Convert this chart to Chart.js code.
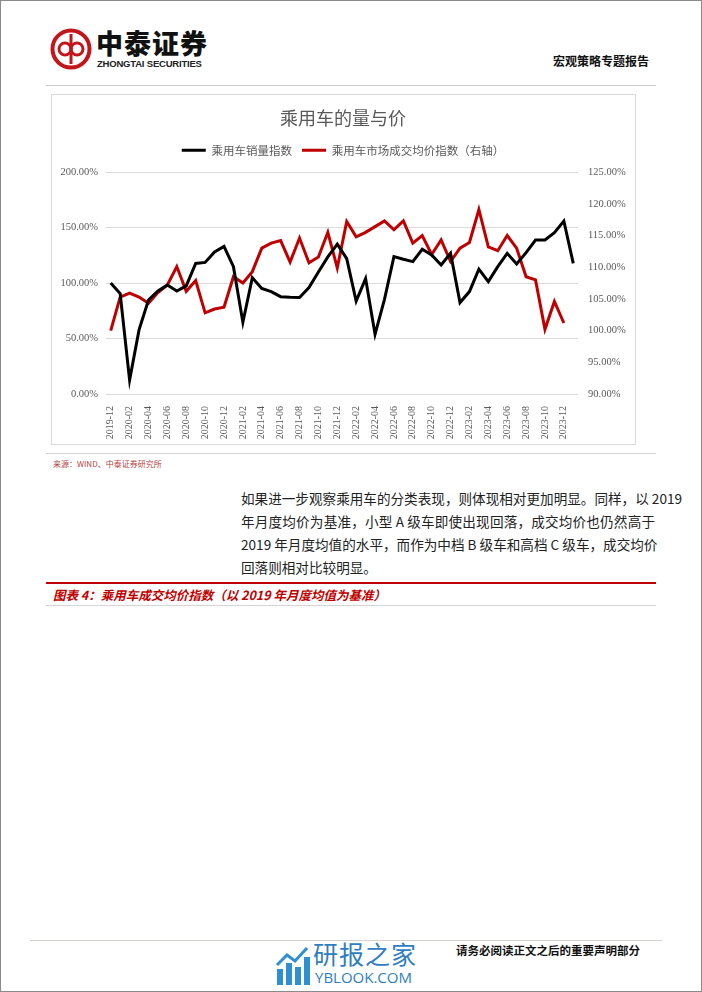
<!DOCTYPE html>
<html>
<head>
<meta charset="utf-8">
<script src="https://cdn.jsdelivr.net/npm/chart.js@4"></script>
<style>
  html, body { margin: 0; padding: 0; background: #fff; }
  #page { position: relative; width: 700px; height: 990px; border: 1px solid #8a8a8a; overflow: hidden;
          font-family: "Noto Sans CJK SC", "Noto Sans", sans-serif; }
  .abs { position: absolute; }
  #brand { left: 95px; top: 26px; font-size: 27px; font-weight: 900; color: #111; letter-spacing: 1px; line-height: 32px; }
  #brand-en { left: 96px; top: 57px; font-family: "Liberation Sans", sans-serif; font-size: 9.5px; font-weight: bold; color: #222; letter-spacing: -0.2px; }
  #report { right: 52px; top: 51px; font-size: 12px; font-weight: bold; color: #111; }
  .rule { height: 0; }
  #chartbox { left: 50px; top: 93px; width: 583px; height: 349px; border: 1px solid #d9d9d9; }
  #chart { left: 51px; top: 94px; }
  #source { left: 52px; top: 457px; font-size: 8px; color: #b5443f; }
  #para { left: 240px; top: 486px; width: 414px; font-size: 13.6px; line-height: 23px; color: #222; }
  #para div { text-align: justify; text-align-last: justify; white-space: nowrap; }
  #para div.last { text-align-last: left; }
  #caption { left: 52px; top: 584px; font-size: 12.5px; font-weight: bold; font-style: italic; color: #c00000; }
  #notice { left: 455px; top: 941px; font-size: 11.5px; font-weight: bold; color: #111; }
  #wm { left: 312px; top: 938px; font-size: 25px; color: #2f7ec1; line-height: 28px; letter-spacing: 1px; }
  #wm-en { left: 314px; top: 966px; font-family: "Open Sans", sans-serif; font-size: 15px; color: #2f7ec1; }
</style>
</head>
<body>
<div id="page">
  <svg class="abs" style="left:49px;top:27px" width="42" height="42" viewBox="0 0 42 42">
    <circle cx="21" cy="21" r="18.5" fill="none" stroke="#c3161c" stroke-width="4"/>
    <circle cx="15" cy="21" r="6" fill="none" stroke="#c3161c" stroke-width="3"/>
    <circle cx="27" cy="21" r="6" fill="none" stroke="#c3161c" stroke-width="3"/>
    <line x1="21" y1="6" x2="21" y2="36" stroke="#c3161c" stroke-width="3"/>
  </svg>
  <div class="abs" id="brand">中泰证券</div>
  <div class="abs" id="brand-en">ZHONGTAI SECURITIES</div>
  <div class="abs" id="report">宏观策略专题报告</div>
  <div class="abs rule" style="left:45px;top:84px;width:610px;border-top:1.5px solid #c8c8c8"></div>

  <div class="abs" id="chartbox"></div>
  <canvas class="abs" id="chart" width="582" height="347"></canvas>

  <div class="abs rule" style="left:45px;top:452px;width:610px;border-top:1.5px solid #d5d5d5"></div>
  <div class="abs" id="source">来源：WIND、中泰证券研究所</div>

  <div class="abs" id="para">
    <div>如果进一步观察乘用车的分类表现，则体现相对更加明显。同样，以 2019</div>
    <div>年月度均价为基准，小型 A 级车即使出现回落，成交均价也仍然高于</div>
    <div>2019 年月度均值的水平，而作为中档 B 级车和高档 C 级车，成交均价</div>
    <div class="last">回落则相对比较明显。</div>
  </div>

  <div class="abs rule" style="left:45px;top:581px;width:610px;border-top:2px solid #c00000"></div>
  <div class="abs" id="caption">图表 4：乘用车成交均价指数（以 2019 年月度均值为基准）</div>
  <div class="abs rule" style="left:45px;top:604px;width:610px;border-top:1.5px solid #d5d5d5"></div>

  <div class="abs rule" style="left:29px;top:939px;width:632px;border-top:1.5px solid #d8d0cc"></div>
  <svg class="abs" style="left:274px;top:944px" width="36" height="42" viewBox="0 0 36 42">
    <rect x="2" y="24" width="6" height="16" fill="#2f8fd3"/>
    <rect x="11" y="18" width="6" height="22" fill="#2f8fd3"/>
    <rect x="20" y="22" width="6" height="18" fill="#2f8fd3"/>
    <rect x="29" y="12" width="6" height="28" fill="#2f8fd3"/>
    <polyline points="2,20 12,10 20,16 32,3" fill="none" stroke="#2f8fd3" stroke-width="3"/>
  </svg>
  <div class="abs" id="wm">研报之家</div>
  <div class="abs" id="wm-en">YBLOOK.COM</div>
  <div class="abs" id="notice">请务必阅读正文之后的重要声明部分</div>
</div>

<script>
const MONTHS = [
  "2019-12", "2020-01", "2020-02", "2020-03", "2020-04", "2020-05", "2020-06", "2020-07",
  "2020-08", "2020-09", "2020-10", "2020-11", "2020-12", "2021-01", "2021-02", "2021-03",
  "2021-04", "2021-05", "2021-06", "2021-07", "2021-08", "2021-09", "2021-10", "2021-11",
  "2021-12", "2022-01", "2022-02", "2022-03", "2022-04", "2022-05", "2022-06", "2022-07",
  "2022-08", "2022-09", "2022-10", "2022-11", "2022-12", "2023-01", "2023-02", "2023-03",
  "2023-04", "2023-05", "2023-06", "2023-07", "2023-08", "2023-09", "2023-10", "2023-11",
  "2023-12", "2024-01",
];

// 乘用车销量指数, %, left axis
const SALES_INDEX = [
  100.0, 90.5, 12.5, 57.8, 84.7, 92.8, 98.2, 92.8,
  97.5, 117.7, 118.6, 128.0, 133.0, 114.7, 64.7, 104.8,
  95.2, 92.2, 87.7, 87.1, 87.0, 96.0, 110.0, 123.6,
  135.0, 122.0, 83.8, 104.0, 53.8, 85.3, 123.8, 121.4,
  119.3, 130.4, 125.3, 116.3, 126.8, 82.4, 92.3, 112.5,
  101.3, 114.8, 126.8, 117.2, 127.4, 138.8, 138.8, 145.4,
  155.9, 117.8,
];

// 乘用车市场成交均价指数, %, right axis
const PRICE_INDEX = [
  100.0, 105.3, 105.9, 105.3, 104.3, 106.0, 107.2, 110.1,
  106.2, 107.9, 102.8, 103.4, 103.7, 108.5, 107.5, 109.3,
  113.0, 113.8, 114.2, 110.8, 114.6, 110.7, 111.6, 115.5,
  109.9, 117.2, 114.8, 115.5, 116.4, 117.3, 115.9, 117.3,
  113.8, 115.0, 112.0, 114.3, 110.9, 113.0, 113.9, 119.1,
  113.2, 112.6, 115.0, 113.0, 108.5, 108.0, 100.2, 104.6,
  101.2,
];

const SERIES_NAMES = ["乘用车销量指数", "乘用车市场成交均价指数（右轴）"];
const SERIES_COLORS = ["#000000", "#c00000"];
const TEXT_GREY = "#595959";
const GRID_GREY = "#d9d9d9";
const SERIF = "'Liberation Serif', 'Times New Roman', serif";
const CJK = "'Noto Sans CJK SC', sans-serif";

const pct = (v) => Number(v).toFixed(2) + "%";

new Chart(document.getElementById("chart"), {
  type: "line",
  data: {
    labels: MONTHS,
    datasets: [
      {
        label: SERIES_NAMES[0],
        data: SALES_INDEX,
        borderColor: SERIES_COLORS[0],
        backgroundColor: SERIES_COLORS[0],
        borderWidth: 3,
        yAxisID: "y",
      },
      {
        label: SERIES_NAMES[1],
        data: PRICE_INDEX,
        borderColor: SERIES_COLORS[1],
        backgroundColor: SERIES_COLORS[1],
        borderWidth: 3,
        yAxisID: "y1",
      },
    ],
  },
  options: {
    responsive: false,
    animation: false,
    devicePixelRatio: 1,
    elements: {
      point: { radius: 0 },
      line: { tension: 0, borderJoinStyle: "miter", borderCapStyle: "butt" },
    },
    layout: { padding: { top: 0, left: 0, right: 0, bottom: 0 } },
    plugins: {
      tooltip: { enabled: false },
      title: {
        display: true,
        text: "乘用车的量与价",
        color: TEXT_GREY,
        font: { family: CJK, size: 18, weight: "normal" },
        padding: { top: 12, bottom: 6 },
      },
      legend: {
        display: true,
        weight: 1800, // sit between the title and the spacer below
        labels: {
          color: TEXT_GREY,
          font: { family: CJK, size: 11.5 },
          usePointStyle: true,
          pointStyle: "line",
          pointStyleWidth: 24,
          boxHeight: 3,
          padding: 10,
        },
      },
      // empty subtitle used only as a gap between legend and plot
      subtitle: {
        display: true,
        text: " ",
        font: { size: 5 },
        padding: 0,
      },
    },
    scales: {
      x: {
        offset: true,
        grid: { display: false },
        border: { display: false },
        ticks: {
          autoSkip: false,
          minRotation: 90,
          maxRotation: 90,
          padding: 4,
          color: TEXT_GREY,
          font: { family: SERIF, size: 10 },
          callback: (value, index) => (index % 2 === 0 ? MONTHS[index] : ""),
        },
        afterFit: (s) => { s.height = 48; },
      },
      y: {
        position: "left",
        min: 0,
        max: 200,
        grid: { color: GRID_GREY, lineWidth: 1, drawTicks: false },
        border: { display: false },
        ticks: {
          stepSize: 50,
          padding: 8,
          color: TEXT_GREY,
          font: { family: SERIF, size: 10.5 },
          callback: pct,
        },
        afterFit: (s) => { s.width = 54; },
      },
      y1: {
        position: "right",
        min: 90,
        max: 125,
        grid: { display: false, drawTicks: false },
        border: { display: false },
        ticks: {
          stepSize: 5,
          padding: 10,
          color: TEXT_GREY,
          font: { family: SERIF, size: 10.5 },
          callback: pct,
        },
        afterFit: (s) => { s.width = 56; },
      },
    },
  },
});
</script>
</body>
</html>
